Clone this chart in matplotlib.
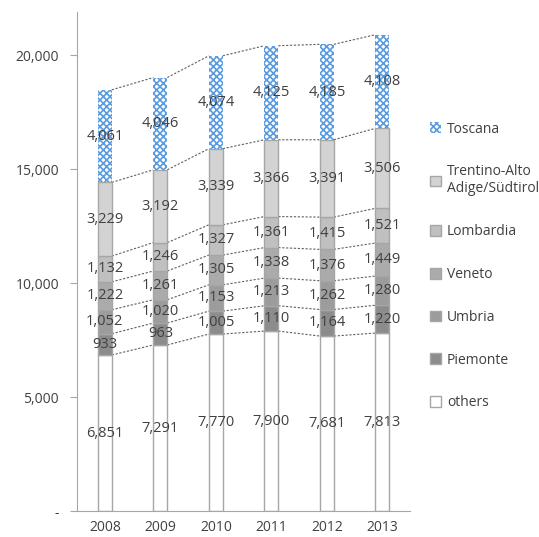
import numpy as np
import matplotlib.pyplot as plt
from matplotlib.ticker import FuncFormatter

# ---------- Data ----------
years = ["2008", "2009", "2010", "2011", "2012", "2013"]
others = [6851, 7291, 7770, 7900, 7681, 7813]
piemonte = [933, 963, 1005, 1110, 1164, 1220]
umbria = [1052, 1020, 1153, 1213, 1262, 1280]
veneto = [1222, 1261, 1305, 1338, 1376, 1449]
lombardia = [1132, 1246, 1327, 1361, 1415, 1521]
trentino = [3229, 3192, 3339, 3366, 3391, 3506]
toscana = [4061, 4046, 4074, 4125, 4185, 4108]

series = [
    ("others", others, "white", None),
    ("Piemonte", piemonte, "#8c8c8c", None),
    ("Umbria", umbria, "#9c9c9c", None),
    ("Veneto", veneto, "#ababab", None),
    ("Lombardia", lombardia, "#c0c0c0", None),
    ("Trentino-Alto\nAdige/Südtirol", trentino, "#d3d3d3", None),
    ("Toscana", toscana, "white", "xxxxx"),
]

plt.rcParams["font.family"] = ["Open Sans", "DejaVu Sans"]
plt.rcParams["hatch.linewidth"] = 1.2

fig = plt.figure(figsize=(5.39, 5.37), dpi=100)
ax = fig.add_axes([0.143, 0.048, 0.618, 0.93])

x = np.arange(len(years))
width = 0.25
bottom = np.zeros(len(years))
handles = []
for name, vals, color, hatch in series:
    vals = np.array(vals, dtype=float)
    if hatch:
        bars = ax.bar(x, vals, width, bottom=bottom, color=color,
                      edgecolor="#5b9be0", hatch=hatch, linewidth=0, zorder=2)
    else:
        bars = ax.bar(x, vals, width, bottom=bottom, color=color,
                      edgecolor="#a6a6a6", linewidth=1, zorder=2)
    handles.append((bars, name))
    for xi, b, v in zip(x, bottom, vals):
        ax.text(xi, b + v / 2, f"{int(v):,}", ha="center", va="center",
                fontsize=10.5, color="#404040", zorder=4)
    top = bottom + vals
    # dashed connectors between bars
    for i in range(len(years) - 1):
        ax.plot([x[i] + width / 2, x[i + 1] - width / 2], [top[i], top[i + 1]],
                ls=(0, (2, 1.5)), color="#606060", lw=0.8, zorder=1)
    bottom = top

ax.set_xlim(-0.5, len(years) - 0.5)
ax.set_ylim(0, 21900)
ax.set_yticks([0, 5000, 10000, 15000, 20000])
ax.yaxis.set_major_formatter(FuncFormatter(lambda v, p: "-" if v == 0 else f"{int(v):,}"))
ax.set_xticks(x)
ax.set_xticklabels(years)
ax.tick_params(axis="x", length=0, pad=6, labelsize=10, colors="#404040")
ax.tick_params(axis="y", length=5, color="#a6a6a6", labelsize=10, labelcolor="#404040", pad=8)
for s in ["top", "right"]:
    ax.spines[s].set_visible(False)
for s in ["left", "bottom"]:
    ax.spines[s].set_color("#a6a6a6")

hs = [h for h, n in handles][::-1]
ls = [n for h, n in handles][::-1]
fig.legend(hs, ls, loc="upper left", bbox_to_anchor=(0.775, 0.797), frameon=False,
           fontsize=10, labelspacing=2.0, handlelength=0.8, handleheight=0.8,
           handletextpad=0.4, labelcolor="#404040")

fig.savefig("out.png", dpi=100)
